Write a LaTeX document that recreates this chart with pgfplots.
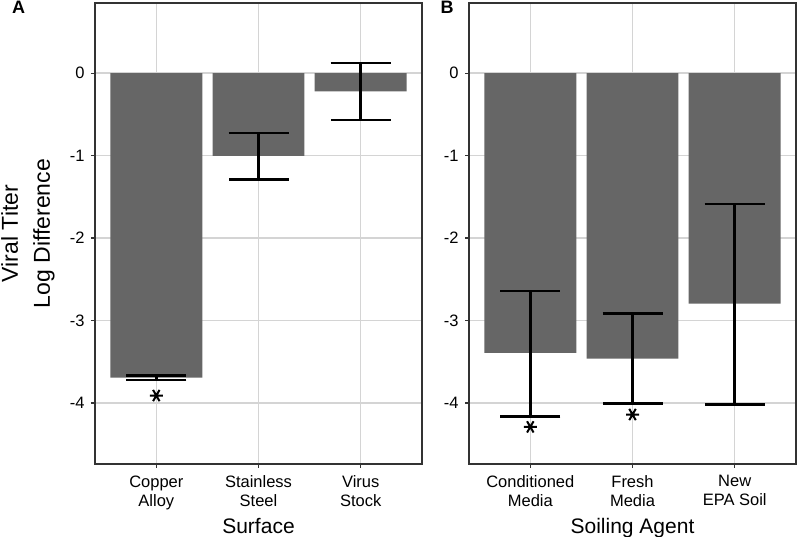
\documentclass[border=0pt]{standalone}
\usepackage{fontspec}
\setmainfont{Liberation Sans}
\usepackage{pgfplots}
\usepackage{pgfplotstable}
\pgfplotsset{compat=1.18}
\definecolor{barg}{HTML}{666666}
\definecolor{gridg}{HTML}{D4D4D4}
\definecolor{frameg}{HTML}{333333}

\pgfplotstableread{
x y ep em
1 -3.694 0.029 0.028
2 -1.003 0.279 0.287
3 -0.222 0.342 0.345
}\surf
\pgfplotstableread{
x y ep em
1 -3.394 0.752 0.769
2 -3.463 0.546 0.542
3 -2.795 1.205 1.222
}\soil

\pgfplotsset{panel/.style={
  scale only axis, width=327pt, height=461pt,
  xmin=0.4, xmax=3.6, ymin=-4.74, ymax=0.85,
  xtick={1,2,3}, ytick={-4,-3,-2,-1,0},
  xmajorgrids, ymajorgrids,
  major grid style={gridg, line width=1.3pt},
  axis line style={frameg, line width=1.2pt},
  tick style={frameg, line width=1.1pt},
  tick align=outside, major tick length=4pt,
  xtick pos=lower, ytick pos=left,
  /pgf/number format/assume math mode=true,
  ticklabel style={font=\fontsize{16.5}{19}\selectfont, text=black},
  xticklabel style={align=center, yshift=-4pt},
  yticklabel style={xshift=-3pt},
  xlabel style={font=\fontsize{21}{25}\selectfont, text=black,
    at={(axis description cs:0.5,-0.1497)}, anchor=base},
  clip=false,
}}

\begin{document}
\begin{tikzpicture}
\path[use as bounding box] (0,0) rectangle (797pt,537pt);
\begin{axis}[panel, at={(95pt,73pt)}, anchor=south west,
  xticklabels={{Copper\\Alloy},{Stainless\\Steel},{Virus\\Stock}},
  xlabel={Surface},
  ylabel={Viral Titer\\Log Difference},
  ylabel style={align=center, font=\fontsize{23}{32}\selectfont, text=black,
    at={(axis description cs:-0.205,0.5)}, anchor=center},
]
\addplot[ybar, bar width=0.9, fill=barg, draw=none] table[x=x, y=y] {\surf};
\addplot[draw=none, mark=none, forget plot,
  error bars/.cd, y dir=both, y explicit, error mark=|,
  error bar style={line width=2.5pt, black},
  error mark options={line width=2.5pt, mark size=30pt, black}]
  table[x=x, y=y, y error plus=ep, y error minus=em] {\surf};
\addplot[only marks, mark=asterisk, mark size=6.5pt, line width=2pt, black,
  mark options={rotate=90}]
  coordinates {(1,-3.91)};
\end{axis}
\begin{axis}[panel, at={(469pt,73pt)}, anchor=south west,
  xticklabels={{Conditioned\\Media},{Fresh\\Media},{New\\EPA Soil}},
  xlabel={Soiling Agent},
]
\addplot[ybar, bar width=0.9, fill=barg, draw=none] table[x=x, y=y] {\soil};
\addplot[draw=none, mark=none, forget plot,
  error bars/.cd, y dir=both, y explicit, error mark=|,
  error bar style={line width=2.5pt, black},
  error mark options={line width=2.5pt, mark size=30pt, black}]
  table[x=x, y=y, y error plus=ep, y error minus=em] {\soil};
\addplot[only marks, mark=asterisk, mark size=6.5pt, line width=2pt, black,
  mark options={rotate=90}]
  coordinates {(1,-4.29) (2,-4.14)};
\end{axis}
\node[font=\fontsize{18}{20}\selectfont\bfseries, anchor=base] at (18.5pt,523pt) {A};
\node[font=\fontsize{18}{20}\selectfont\bfseries, anchor=base] at (447pt,523pt) {B};
\end{tikzpicture}
\end{document}
